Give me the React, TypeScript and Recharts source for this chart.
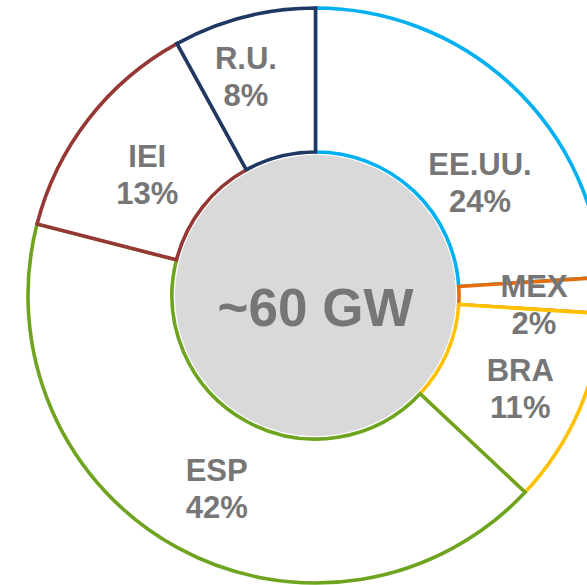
import { PieChart, Pie, Cell } from "recharts";

const categories = ["EE.UU.", "MEX", "BRA", "ESP", "IEI", "R.U."];
const shares = [24, 2, 11, 42, 13, 8];
const totalLabel = "~60 GW";

const sliceColors = ["#00b0f0", "#e46c0a", "#ffc000", "#6ea41f", "#953735", "#1f3864"];
// nudges from the mid-ring position, to match where the labels sit in the original
const labelShift: [number, number][] = [
  [17, 45],
  [3, 9],
  [7, 8],
  [5, 5],
  [2, 12],
  [-16, -10],
];

const textColor = "#767676";
const font = "'Liberation Sans', Arial, sans-serif";
const RAD = Math.PI / 180;

const data = categories.map((name, i) => ({ name, value: shares[i] }));

const renderSliceLabel = (props: any) => {
  const { cx, cy, midAngle, innerRadius, outerRadius, index } = props;
  const r = (innerRadius + outerRadius) / 2;
  const x = cx + r * Math.cos(-midAngle * RAD) + labelShift[index][0];
  const y = cy + r * Math.sin(-midAngle * RAD) + labelShift[index][1];
  return (
    <text
      key={`lbl-${index}`}
      textAnchor="middle"
      fill={textColor}
      fontSize={31}
      fontWeight={700}
      fontFamily={font}
    >
      <tspan x={x} y={y - 18.5} dominantBaseline="central">
        {categories[index]}
      </tspan>
      <tspan x={x} y={y + 18.5} dominantBaseline="central">
        {shares[index]}%
      </tspan>
    </text>
  );
};

const renderCenter = (props: any) => (
  <text
    x={props.cx}
    y={props.cy + 12}
    textAnchor="middle"
    dominantBaseline="central"
    fill={textColor}
    fontSize={53}
    fontWeight={700}
    fontFamily={font}
  >
    {totalLabel}
  </text>
);

const App = () => {
  return (
    <div style={{ position: "absolute", left: 0, top: 0 }}>
      <PieChart width={587} height={585} margin={{ top: 0, right: 0, bottom: 0, left: 0 }}>
        <Pie
          data={data}
          dataKey="value"
          cx={315.5}
          cy={295.5}
          innerRadius={143.5}
          outerRadius={287.5}
          startAngle={90}
          endAngle={-270}
          label={renderSliceLabel}
          labelLine={false}
          isAnimationActive={false}
        >
          {data.map((d, i) => (
            <Cell key={d.name} fill="#ffffff" stroke={sliceColors[i]} strokeWidth={3.6} />
          ))}
        </Pie>
        <Pie
          data={[{ name: "total", value: 1 }]}
          dataKey="value"
          cx={315.5}
          cy={295.5}
          innerRadius={0}
          outerRadius={140.5}
          startAngle={90}
          endAngle={-270}
          fill="#d9d9d9"
          stroke="none"
          label={renderCenter}
          labelLine={false}
          isAnimationActive={false}
        />
      </PieChart>
    </div>
  );
};

export default App;
